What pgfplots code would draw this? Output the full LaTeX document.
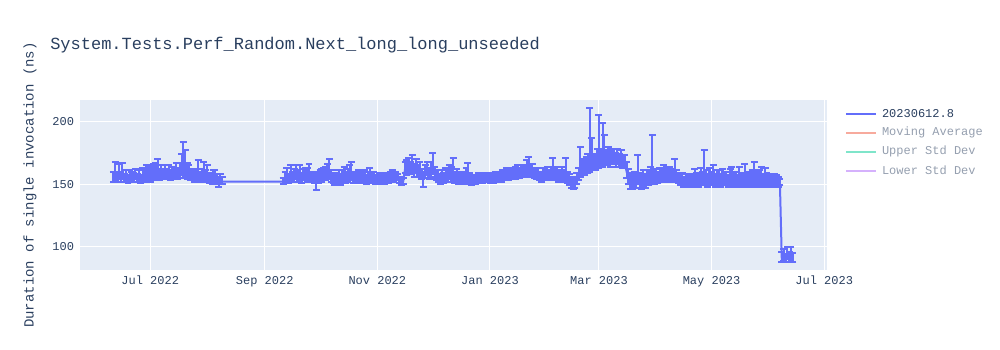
\documentclass[border=0pt]{standalone}
\usepackage{fontspec}
\setmainfont{Liberation Mono}
\usepackage{pgfplots}
\usepackage{pgfplotstable}
\pgfplotsset{compat=1.18}
\definecolor{tr}{HTML}{636EFA}
\definecolor{bgc}{HTML}{E5ECF6}
\definecolor{fc}{HTML}{2A3F5F}
\definecolor{fcl}{HTML}{959FAF}
\definecolor{ma}{HTML}{F7AA9D}
\definecolor{us}{HTML}{7FE5CA}
\definecolor{ls}{HTML}{D5B1FC}
\pgfplotstableread{
x y ep em
-20 155 5 3
-19 156 12 3
-18 154 4 2
-17 157 9 3
-16 155 5 3
-15 156 11 2
-14 154 4 2
-13 155 6 3
-12 153 4 2
-11 156 5 3
-10 154 6 2
-9 155 4 3
-8 157 5 3
-7 154 4 2
-6 155 6 3
-5 153 4 2
-4 156 7 3
-3 155 6 3
-2 154 11 2
-1 156 7 3
0 155 9 3
1 157 8 3
2 156 10 3
3 158 9 3
4 157 13 3
5 156 6 3
6 158 7 3
7 157 5 3
8 159 6 3
9 157 5 3
10 158 7 3
11 156 5 3
12 158 6 3
13 157 5 3
14 159 8 3
15 157 6 3
16 158 9 3
17 160 14 3
18 158 26 3
19 159 18 3
20 157 10 3
21 158 7 3
22 156 6 3
23 157 5 3
24 155 7 3
25 156 6 3
26 157 12 3
27 155 5 3
28 156 6 3
29 157 11 3
30 155 6 3
31 156 9 3
32 154 5 3
33 155 4 3
34 153 8 3
35 154 7 3
36 152 6 2
37 151 5 3
38 153 5 3
39 152 4 2
72 152 3 2
73 154 6 2
74 155 8 3
75 153 5 2
76 156 9 3
77 154 6 2
78 155 7 3
79 157 8 3
80 155 6 3
81 156 9 3
82 154 5 3
83 155 7 2
84 157 6 3
85 155 8 3
86 156 10 3
87 154 6 2
88 155 5 3
89 153 6 2
90 152 7 7
91 154 6 3
92 156 5 3
93 155 7 3
94 157 6 3
95 156 8 3
96 158 8 3
97 157 13 3
98 155 6 3
99 154 5 3
100 153 6 4
101 152 5 3
102 154 7 3
103 153 5 4
104 155 6 3
105 156 8 3
106 154 6 3
107 155 7 3
108 157 8 3
109 156 12 3
110 154 6 3
111 155 5 3
112 153 6 2
113 154 7 3
114 155 5 3
115 153 6 2
116 154 7 3
117 152 5 2
118 154 6 3
119 155 8 3
120 153 5 2
121 154 6 3
122 152 5 2
123 153 4 2
124 154 5 3
125 152 6 2
126 153 4 2
127 152 5 2
128 154 5 3
129 153 4 2
130 155 5 3
131 156 5 3
132 155 4 3
133 157 3 2
134 155 3 2
135 153 3 2
136 151 3 2
137 152 3 2
138 162 6 3
139 160 9 3
140 163 8 4
141 161 7 3
142 163 10 3
143 160 6 4
144 162 8 3
145 159 6 3
146 161 7 4
147 157 5 3
148 155 5 7
149 158 7 3
150 160 8 3
151 157 6 3
152 159 9 3
153 161 14 3
154 158 6 3
155 156 5 3
156 155 6 3
157 153 5 3
158 155 6 3
159 154 5 3
160 156 7 3
161 155 6 3
162 157 8 3
163 155 9 3
164 156 15 3
165 154 6 3
166 155 7 3
167 153 5 3
168 154 6 3
169 155 5 3
170 153 7 3
171 155 8 3
172 154 13 3
173 153 6 3
174 152 5 3
175 153 4 3
176 152 5 2
177 153 4 2
178 154 5 3
179 153 4 2
180 154 5 3
181 155 4 3
182 154 5 2
183 155 4 3
184 154 5 3
185 155 4 3
186 154 5 3
187 156 4 3
188 155 5 3
189 156 4 3
190 155 5 3
191 157 4 3
192 156 5 3
193 157 6 3
194 156 5 3
195 158 5 3
196 157 6 3
197 158 5 3
198 157 7 3
199 159 6 3
200 158 5 3
201 159 6 3
202 160 5 3
203 159 6 3
204 161 8 3
205 160 12 3
206 159 7 3
207 160 6 3
208 158 5 3
209 157 6 3
210 158 5 3
211 156 4 3
212 155 5 3
213 157 6 3
214 156 5 3
215 157 7 3
216 156 5 3
217 158 6 3
218 157 14 3
219 156 6 3
220 157 7 3
221 155 6 3
222 156 5 3
223 157 7 3
224 155 6 3
225 156 15 3
226 154 6 3
227 153 5 4
228 151 5 4
229 150 6 4
230 151 5 4
231 153 6 3
232 156 7 3
233 159 21 3
234 161 8 3
235 160 10 3
236 163 9 3
237 162 12 3
238 164 47 4
239 165 22 4
240 166 8 4
241 165 9 4
242 168 10 4
243 167 38 4
244 169 9 4
245 168 31 4
246 170 19 4
247 169 8 4
248 171 9 4
249 168 10 4
250 170 8 4
251 169 9 3
252 168 7 4
253 170 8 4
254 167 7 3
255 168 9 4
256 166 7 3
257 167 6 4
258 160 8 5
259 155 7 5
260 152 6 6
261 151 8 5
262 153 7 6
263 152 6 5
264 155 18 5
265 152 7 5
266 151 6 5
267 153 8 5
268 152 6 5
269 154 7 4
270 153 8 4
271 154 10 4
272 155 34 4
273 154 8 4
274 155 7 3
275 154 6 3
276 156 7 3
277 155 8 3
278 156 9 3
279 155 8 3
280 157 7 3
281 156 8 3
282 155 7 3
283 156 6 3
284 157 13 3
285 155 6 3
286 154 5 3
287 153 6 4
288 154 5 4
289 152 4 4
290 153 5 4
291 152 6 4
292 153 5 4
293 152 6 4
294 153 5 4
295 152 10 4
296 153 6 4
297 152 5 4
298 154 9 4
299 153 7 4
300 154 23 4
301 153 8 4
302 152 6 4
303 154 9 4
304 153 7 4
305 154 11 4
306 152 6 4
307 153 8 4
308 154 7 4
309 152 6 4
310 153 9 4
311 154 6 4
312 153 7 4
313 152 5 4
314 154 8 4
315 153 11 4
316 152 6 4
317 153 7 4
318 152 5 4
319 154 10 4
320 153 6 4
321 152 5 4
322 153 13 4
323 152 6 4
324 153 7 4
325 152 6 4
326 153 8 4
327 154 14 4
328 152 6 4
329 153 7 4
330 152 9 4
331 153 11 4
332 152 6 4
333 153 10 4
334 152 7 4
335 153 5 4
336 152 6 4
337 153 5 4
338 152 6 4
339 153 4 4
340 152 4 4
341 151 3 2
342 91 5 3
343 92 6 3
344 90 4 2
345 93 7 3
346 91 5 3
347 92 8 3
348 91 4 3
}\datatable
\begin{document}
\begin{tikzpicture}
\path (0pt,0pt) rectangle (750pt,262.5pt);
\begin{axis}[
  at={(60pt,60pt)}, anchor=south west,
  scale only axis, width=560.25pt, height=127.5pt,
  xmin=-38, xmax=366.5, ymin=81.4, ymax=217.4,
  axis background/.style={fill=bgc},
  axis line style={draw=none},
  major tick length=0pt,
  grid=major, major grid style={white, line width=0.75pt},
  xtick={0,62,123,184,243,304,365},
  xticklabels={Jul 2022,Sep 2022,Nov 2022,Jan 2023,Mar 2023,May 2023,Jul 2023},
  ytick={100,150,200},
  /pgf/number format/assume math mode=true,
  tick label style={font=\fontsize{9pt}{10pt}\selectfont, text=fc},
  xticklabel style={yshift=-1pt},
  yticklabel style={xshift=-1pt},
  clip=false,
]
\addplot[tr, line width=1.5pt, no markers,
  error bars/.cd, y dir=both, y explicit,
  error bar style={line width=1.5pt, tr},
  error mark options={rotate=90, mark size=2.6pt, line width=1.5pt, tr}]
  table[x=x, y=y, y error plus=ep, y error minus=em] {\datatable};
\end{axis}
\node[anchor=west, text=fc, font=\fontsize{12.75pt}{14pt}\selectfont, inner sep=0pt] at (37.5pt,228.75pt) {System.Tests.Perf\_Random.Next\_long\_long\_unseeded};
\node[rotate=90, text=fc, font=\fontsize{10.5pt}{12pt}\selectfont, inner sep=0pt] at (22.5pt,123.75pt) {Duration of single invocation (ns)};
\draw[tr, line width=1.5pt] (634.5pt,177pt) -- (657pt,177pt);
\draw[ma, line width=1.5pt] (634.5pt,163pt) -- (657pt,163pt);
\draw[us, line width=1.5pt] (634.5pt,148.7pt) -- (657pt,148.7pt);
\draw[ls, line width=1.5pt] (634.5pt,134.5pt) -- (657pt,134.5pt);
\begin{scope}[every node/.style={anchor=west, inner sep=0pt, font=\fontsize{9pt}{10pt}\selectfont}]
\node[text=fc] at (661.3pt,177pt) {20230612.8};
\node[text=fcl] at (661.3pt,163pt) {Moving Average};
\node[text=fcl] at (661.3pt,148.7pt) {Upper Std Dev};
\node[text=fcl] at (661.3pt,134.5pt) {Lower Std Dev};
\end{scope}
\end{tikzpicture}
\end{document}
